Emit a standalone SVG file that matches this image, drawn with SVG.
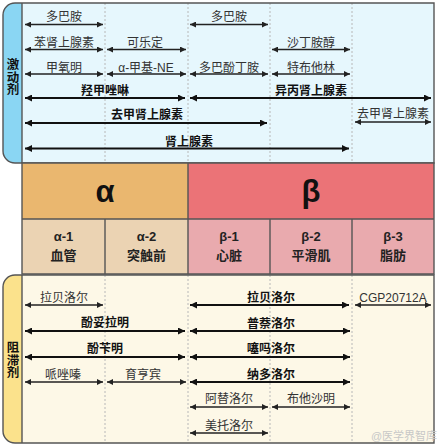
<svg xmlns="http://www.w3.org/2000/svg" width="438" height="448" viewBox="0 0 438 448">
<style>
text{font-family:"Liberation Sans","Noto Sans CJK SC",sans-serif;text-anchor:middle;}
.l{font-size:12px;fill:#333;}
.b{font-size:12px;font-weight:bold;fill:#111;}
.side{font-family:"Noto Sans CJK SC",sans-serif;font-size:12.5px;font-weight:bold;fill:#111;writing-mode:vertical-rl;}
.big{font-size:31px;font-weight:bold;fill:#111;}
.sub{font-size:13px;font-weight:bold;fill:#222;}
.div{stroke:#b8b8b8;stroke-width:1;stroke-dasharray:2 2;fill:none;}
.edge{stroke:#555;stroke-width:1.4;fill:none;}
.t{stroke:#222;stroke-width:1.3;fill:none;marker-start:url(#ah);marker-end:url(#ah);}
.k{stroke:#111;stroke-width:2.2;fill:none;marker-start:url(#ahk);marker-end:url(#ahk);}
</style>
<defs>
<marker id="ah" viewBox="0 0 10 10" refX="10" refY="5" markerWidth="7" markerHeight="6" markerUnits="userSpaceOnUse" orient="auto-start-reverse"><path d="M0,0 L10,5 L0,10 z" fill="#222"/></marker>
<marker id="ahk" viewBox="0 0 10 10" refX="10" refY="5" markerWidth="8" markerHeight="7" markerUnits="userSpaceOnUse" orient="auto-start-reverse"><path d="M0,0 L10,5 L0,10 z" fill="#111"/></marker>
</defs>

<g id="agonist-panel">
<path d="M15,3 H434 V163 H15 A12,12 0 0 1 3,151 V15 A12,12 0 0 1 15,3 Z" fill="#e6f7fd"/>
<path d="M15,3 H22 V163 H15 A12,12 0 0 1 3,151 V15 A12,12 0 0 1 15,3 Z" fill="#8ad6f3"/>
<path class="div" d="M105,3 V163 M188,3 V163 M270,3 V163 M352,3 V163"/>
<path class="edge" d="M15,3 H434 V163 H15 A12,12 0 0 1 3,151 V15 A12,12 0 0 1 15,3 Z M22,3 V163"/>
<text class="side" x="13" y="77">激动剂</text>
</g>

<g id="antagonist-panel">
<path d="M15,275 H434 V443 H15 A12,12 0 0 1 3,431 V287 A12,12 0 0 1 15,275 Z" fill="#fdf8e7"/>
<path d="M15,275 H22 V443 H15 A12,12 0 0 1 3,431 V287 A12,12 0 0 1 15,275 Z" fill="#fbe28c"/>
<path class="div" d="M105,275 V443 M188,275 V443 M270,275 V443 M352,275 V443"/>
<path class="edge" d="M15,275 H434 V443 H15 A12,12 0 0 1 3,431 V287 A12,12 0 0 1 15,275 Z M22,275 V443"/>
<text class="side" x="13" y="360">阻滞剂</text>
</g>

<g id="alpha">
<rect x="22" y="163" width="166" height="56" fill="#eab76f"/>
<text class="big" x="105" y="202">α</text>
</g>
<g id="beta">
<rect x="188" y="163" width="246" height="56" fill="#eb7377"/>
<text class="big" x="311" y="202">β</text>
</g>
<g id="alpha1">
<rect x="22" y="219" width="83" height="55" fill="#ebd3b3"/>
<text class="sub" x="63.5" y="241">α-1</text>
<text class="sub" x="63.5" y="260">血管</text>
</g>
<g id="alpha2">
<rect x="105" y="219" width="83" height="55" fill="#ebd3b3"/>
<text class="sub" x="146.5" y="241">α-2</text>
<text class="sub" x="146.5" y="260">突触前</text>
</g>
<g id="beta1">
<rect x="188" y="219" width="82" height="55" fill="#e9aaae"/>
<text class="sub" x="229" y="241">β-1</text>
<text class="sub" x="229" y="260">心脏</text>
</g>
<g id="beta2">
<rect x="270" y="219" width="82" height="55" fill="#e9aaae"/>
<text class="sub" x="311" y="241">β-2</text>
<text class="sub" x="311" y="260">平滑肌</text>
</g>
<g id="beta3">
<rect x="352" y="219" width="82" height="55" fill="#e9aaae"/>
<text class="sub" x="393" y="241">β-3</text>
<text class="sub" x="393" y="260">脂肪</text>
</g>
<path class="edge" d="M22,163 H434 V274 H22 Z M22,219 H434 M188,163 V274 M105,219 V274 M270,219 V274 M352,219 V274"/>

<g id="labels">
<g id="dopamine-a"><text class="l" x="64" y="21">多巴胺</text></g>
<g id="dopamine-b"><text class="l" x="229" y="21">多巴胺</text></g>
<g id="phenylephrine"><text class="l" x="64" y="47">苯肾上腺素</text></g>
<g id="clonidine"><text class="l" x="145" y="47">可乐定</text></g>
<g id="salbutamol"><text class="l" x="311" y="47">沙丁胺醇</text></g>
<g id="methoxamine"><text class="l" x="64" y="71.5">甲氧明</text></g>
<g id="methyl-ne"><text class="l" x="146" y="71.5">α-甲基-NE</text></g>
<g id="dobutamine"><text class="l" x="229" y="71.5">多巴酚丁胺</text></g>
<g id="terbutaline"><text class="l" x="311" y="71.5">特布他林</text></g>
<g id="oxymetazoline"><text class="b" x="105" y="94.5">羟甲唑啉</text></g>
<g id="isoprenaline"><text class="b" x="311" y="94.5">异丙肾上腺素</text></g>
<g id="noradrenaline"><text class="b" x="147" y="118.5">去甲肾上腺素</text></g>
<g id="noradrenaline-b3"><text class="l" x="393" y="117.5">去甲肾上腺素</text></g>
<g id="adrenaline"><text class="b" x="189" y="145.5">肾上腺素</text></g>

<g id="labetalol-a"><text class="l" x="64" y="302">拉贝洛尔</text></g>
<g id="labetalol-b"><text class="b" x="271" y="302">拉贝洛尔</text></g>
<g id="cgp"><text class="l" x="393" y="302">CGP20712A</text></g>
<g id="phentolamine"><text class="b" x="105" y="327">酚妥拉明</text></g>
<g id="propranolol"><text class="b" x="271" y="327.5">普萘洛尔</text></g>
<g id="phenoxybenzamine"><text class="b" x="105" y="353">酚苄明</text></g>
<g id="timolol"><text class="b" x="271" y="353">噻吗洛尔</text></g>
<g id="prazosin"><text class="l" x="63" y="379">哌唑嗪</text></g>
<g id="yohimbine"><text class="l" x="143" y="379">育亨宾</text></g>
<g id="nadolol"><text class="b" x="271" y="378.5">纳多洛尔</text></g>
<g id="atenolol"><text class="l" x="229" y="403">阿替洛尔</text></g>
<g id="butoxamine"><text class="l" x="311" y="403">布他沙明</text></g>
<g id="metoprolol"><text class="l" x="229" y="429.5">美托洛尔</text></g>
</g>

<g id="connectors">
<path class="t" d="M25,24.5 H103"/>
<path class="t" d="M190,24.5 H268"/>
<path class="t" d="M25,49.5 H103"/>
<path class="t" d="M107,49.5 H186"/>
<path class="t" d="M272,49.5 H350"/>
<path class="t" d="M25,74 H103"/>
<path class="t" d="M107,74 H186"/>
<path class="t" d="M190,74 H268"/>
<path class="t" d="M272,74 H350"/>
<path class="k" d="M25,98 H185"/>
<path class="k" d="M190,98 H431"/>
<path class="k" d="M25,123 H267"/>
<path class="t" d="M355,122 H431"/>
<path class="k" d="M25,148.5 H349"/>

<path class="t" d="M25,305 H103"/>
<path class="k" d="M190,305 H349"/>
<path class="t" d="M355,305 H431"/>
<path class="k" d="M25,331 H185"/>
<path class="k" d="M190,331 H350"/>
<path class="k" d="M25,357 H185"/>
<path class="k" d="M190,357 H350"/>
<path class="t" d="M25,382 H103"/>
<path class="t" d="M107,382 H186"/>
<path class="k" d="M190,382 H350"/>
<path class="t" d="M190,407 H268"/>
<path class="t" d="M272,407 H350"/>
<path class="t" d="M190,433 H268"/>
</g>

<g id="watermark"><text x="404" y="440" style="font-size:11px;fill:#c8c8c8;">@医学界智库</text></g>
</svg>
